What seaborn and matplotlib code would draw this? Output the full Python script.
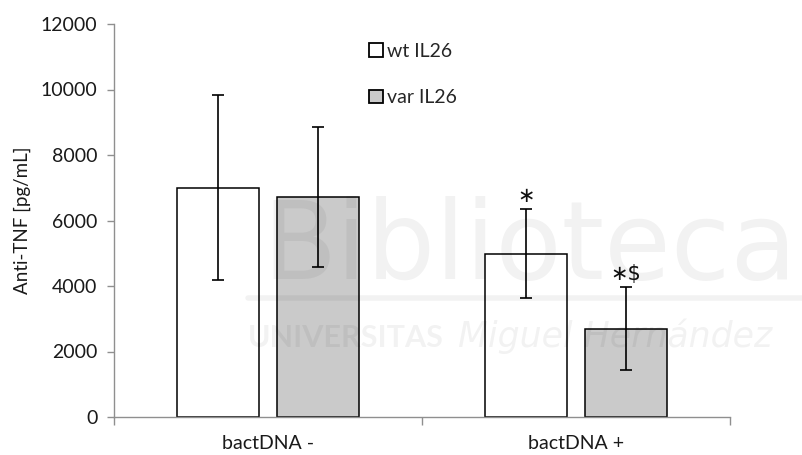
import matplotlib
matplotlib.use("Agg")
import matplotlib.pyplot as plt
from matplotlib.patches import Patch
from matplotlib.lines import Line2D
import seaborn as sns
import pandas as pd

# Categories and series
groups = ["bactDNA -", "bactDNA +"]
series = ["wt IL26", "var IL26"]

# Means and error (SD) per series, in pg/mL
wt_mean = [7000, 4980]
wt_err = [2830, 1360]
var_mean = [6720, 2700]
var_err = [2130, 1260]

# Significance marks above the error bars
wt_marks = ["", "\u2217"]
var_marks = ["", "\u2217$"]

y_ticks = [0, 2000, 4000, 6000, 8000, 10000, 12000]

df = pd.DataFrame({
    "group": groups * 2,
    "series": [s for s in series for _ in groups],
    "value": wt_mean + var_mean,
})

sns.set_theme(style="white")
plt.rcParams["font.family"] = ["Lato", "DejaVu Sans"]

fill_colors = ["#ffffff", "#cacaca"]
axis_gray = "#8f8f8f"

fig = plt.figure(figsize=(8.02, 4.55), dpi=100)
ax = fig.add_axes([114 / 802, 38 / 455, 616 / 802, 393 / 455])

sns.barplot(
    data=df, x="group", y="value", hue="series",
    order=groups, hue_order=series, palette=fill_colors,
    width=0.652, gap=0.18, edgecolor="black", linewidth=1.1,
    errorbar=None, ax=ax, zorder=2,
)

# Error bars and significance marks, placed on the drawn bars
for container, errs, marks in zip(ax.containers, [wt_err, var_err], [wt_marks, var_marks]):
    for bar, e, m in zip(container, errs, marks):
        xc = bar.get_x() + bar.get_width() / 2
        h = bar.get_height()
        ax.errorbar(xc, h, yerr=e, fmt="none", ecolor="black",
                    elinewidth=1.2, capsize=4.3, capthick=1.2, zorder=3)
        if m:
            ax.annotate(m, (xc, h + e), xytext=(0, 5.5), textcoords="offset points",
                        ha="center", va="baseline", fontsize=15,
                        family=["DejaVu Sans"], color="#111111")

# Axes styling
ax.set_ylim(0, 12000)
ax.set_yticks(y_ticks)
ax.set_yticklabels([str(t) for t in y_ticks])
ax.set_xlim(-0.5, 1.5)
ax.set_xticks([0, 1])
ax.set_xticklabels(groups)
ax.set_xticks([-0.5, 0.5, 1.5], minor=True)
ax.tick_params(axis="x", which="major", length=0, pad=13, labelsize=14, labelcolor="#1a1a1a")
ax.tick_params(axis="x", which="minor", length=6, width=1, color=axis_gray, direction="out", bottom=True)
ax.tick_params(axis="y", length=5, width=1, color=axis_gray, direction="out", left=True,
               pad=7, labelsize=14, labelcolor="#1a1a1a")
for side in ["top", "right"]:
    ax.spines[side].set_visible(False)
for side in ["left", "bottom"]:
    ax.spines[side].set_color(axis_gray)
    ax.spines[side].set_linewidth(1)

ax.set_xlabel("")
ax.set_ylabel("Anti-TNF [pg/mL]", fontsize=13.5, color="#1a1a1a")
ax.yaxis.set_label_coords(-0.134, 0.5)

# Legend with square swatches
handles = [Patch(facecolor=c, edgecolor="black", linewidth=1.3) for c in fill_colors]
ax.legend(handles, series, loc="upper left", bbox_to_anchor=(369 / 802, 1 - 43 / 455),
          bbox_transform=fig.transFigure, frameon=False, fontsize=14,
          handlelength=0.7, handleheight=0.7, handletextpad=0.25, labelspacing=1.5,
          borderaxespad=0, borderpad=0)

# Faint library watermark across the figure
wm = dict(color="black", alpha=0.05, zorder=10)
fig.text(262 / 802, 1 - 279 / 455, "Biblioteca", fontsize=78, family=["DejaVu Sans"], **wm)
fig.add_artist(Line2D([248 / 802, 1.0], [1 - 298 / 455, 1 - 298 / 455],
                      transform=fig.transFigure, lw=4, **wm))
fig.text(248 / 802, 1 - 347 / 455, "UNIVERSITAS", fontsize=22, fontweight="bold", **wm)
fig.text(458 / 802, 1 - 347 / 455, "Miguel Hernández", fontsize=25, fontstyle="italic",
         family=["DejaVu Sans"], **wm)

fig.savefig("out.png", dpi=100)
